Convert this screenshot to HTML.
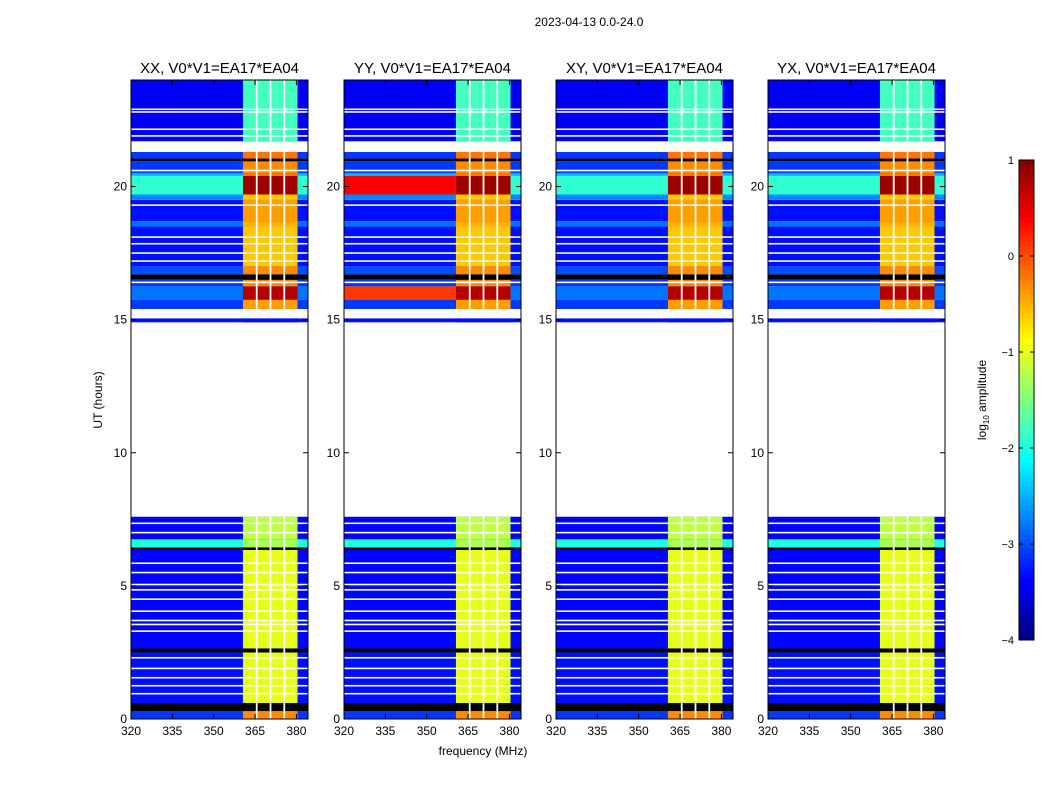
<!DOCTYPE html>
<html><head><meta charset="utf-8"><style>
body{margin:0;background:#fff;font-family:"Liberation Sans",sans-serif}
svg text{font-family:"Liberation Sans",sans-serif}
</style></head><body>
<svg id="chart" width="1050" height="800" viewBox="0 0 1050 800" xmlns="http://www.w3.org/2000/svg">
<rect width="1050" height="800" fill="#fff"/>
<text x="589" y="26" font-size="12" text-anchor="middle">2023-04-13 0.0-24.0</text>
<g id="panels"></g>
<text x="483" y="755" font-size="12" text-anchor="middle">frequency (MHz)</text>
<text transform="translate(102,400) rotate(-90)" font-size="12" text-anchor="middle">UT (hours)</text>
<g id="cbar"></g>
<text transform="translate(986,400) rotate(-90)" font-size="12" text-anchor="middle">log<tspan font-size="8" dy="3">10</tspan><tspan dy="-3"> amplitude</tspan></text>
</svg>
<script>
const panelTitles=["XX, V0*V1=EA17*EA04","YY, V0*V1=EA17*EA04","XY, V0*V1=EA17*EA04","YX, V0*V1=EA17*EA04"];
const panelLefts=[131,344,556,768];
const xTicks=[320,335,350,365,380];
const yTicks=[0,5,10,15,20];
const cbTicks=[1,0,-1,-2,-3,-4];
// time rows: start hour, end hour, background level, band level (null = flagged white, "k" = black)
const rowStart=[0,0.3,0.6,2.5,2.65,6.35,6.45,6.75,7.6,14.9,15.05,15.4,15.75,16.25,16.5,16.7,17.0,18.5,18.7,19.5,19.7,20.4,20.5,20.95,21.05,21.3,21.7];
const rowEnd  =[0.3,0.6,2.5,2.65,6.35,6.45,6.75,7.6,14.9,15.05,15.4,15.75,16.25,16.5,16.7,17.0,18.5,18.7,19.5,19.7,20.4,20.5,20.95,21.05,21.3,21.7,24];
const rowBg   =[-3.1,"k",-3.3,"k",-3.35,"k",-2.0,-3.35,null,-3.3,null,-3.1,-2.8,-3.1,"k",-3.0,-3.3,-2.8,-3.3,-2.7,-1.9,-2.5,-3.1,"k",-3.1,null,-3.4];
const rowBand =[-0.3,"k",-1.0,"k",-1.0,"k",-1.3,-1.2,null,-3.3,null,-0.4,0.75,-0.3,"k",-0.3,-0.6,-0.5,-0.4,-0.6,0.85,-0.2,-0.3,"k",-0.2,null,-1.8];
const whiteLines=[0.95,1.25,1.55,1.9,2.3,3.3,3.55,3.7,4.05,4.5,4.85,5.05,5.5,5.85,7.0,7.35,16.4,17.2,17.5,17.85,18.1,19.3,20.6,21.9,22.15,22.8,22.9];
const bandFreq=[360.6,380.4];
const gapFreq=[365.6,370.6,375.6];
const yyHotStart=[15.75,19.7];
const yyHotEnd=[16.25,20.4];
const yyHotLevel=[0.1,0.4];

const NS="http://www.w3.org/2000/svg";
const panels=document.getElementById('panels');
const W=177,top0=80,bot0=719,fmin=320,fmax=384.2;
function jet(v){let x=(v+4)/5;x=Math.max(0,Math.min(1,x));
const c=t=>Math.round(255*Math.max(0,Math.min(1,1.5-Math.abs(4*x-t))));
return `rgb(${c(3)},${c(2)},${c(1)})`;}
function yS(h){return bot0-(h/24)*(bot0-top0);}
function mk(tag,attrs,parent){const e=document.createElementNS(NS,tag);for(const k in attrs)e.setAttribute(k,attrs[k]);parent.appendChild(e);return e;}
function col(v){return v==="k"?"#000":(v===null?"#fff":jet(v));}
panelLefts.forEach((L,p)=>{
  const xS=f=>L+(f-fmin)/(fmax-fmin)*W;
  const g=mk('g',{},panels);
  
  
  for(let i=0;i<rowStart.length;i++){
    const y1=yS(rowEnd[i]),y2=yS(rowStart[i]);
    const r=mk('rect',{x:L,y:y1,width:W,height:y2-y1,fill:col(rowBg[i])},g);
    
    
    if(rowBand[i]!==null){
      const b=mk('rect',{x:xS(bandFreq[0]),y:y1,width:xS(bandFreq[1])-xS(bandFreq[0]),height:y2-y1,fill:col(rowBand[i])},g);
      
      
    }
  }
  if(p===1){
    for(let k=0;k<yyHotStart.length;k++){
      const y1=yS(yyHotEnd[k]),y2=yS(yyHotStart[k]);
      const h=mk('rect',{x:L,y:y1,width:xS(bandFreq[0])-L,height:y2-y1,fill:jet(yyHotLevel[k])},g);
      
      
    }
  }
  whiteLines.forEach(h=>{
    const l=mk('rect',{x:L,y:yS(h)-0.8,width:W,height:1.6,fill:'#fff'},g);
    
    
  });
  gapFreq.forEach(f=>{
    [[0,7.6],[15.4,21.3],[21.7,24]].forEach(([a,b])=>{
      const gg=mk('rect',{x:xS(f)-0.9,y:yS(b),width:1.8,height:yS(a)-yS(b),fill:'#fff'},g);
      
      
    });
  });
  const fr=mk('rect',{x:L,y:top0,width:W,height:bot0-top0,fill:'none',stroke:'#000','stroke-width':1},g);
  
  
  const t=mk('text',{x:L+W/2,y:73,'font-size':15,'text-anchor':'middle'},g);t.textContent=panelTitles[p];
  
  
  xTicks.forEach(f=>{
    const x=xS(f);
    mk('line',{x1:x,x2:x,y1:bot0,y2:bot0-5,stroke:'#000'},g);
    mk('line',{x1:x,x2:x,y1:top0,y2:top0+5,stroke:'#000'},g);
    const tx=mk('text',{x:x,y:bot0+16,'font-size':12,'text-anchor':'middle'},g);tx.textContent=f;
    
    
  });
  yTicks.forEach(h=>{
    const y=yS(h);
    mk('line',{x1:L,x2:L+5,y1:y,y2:y,stroke:'#000'},g);
    mk('line',{x1:L+W,x2:L+W-5,y1:y,y2:y,stroke:'#000'},g);
    const ty=mk('text',{x:L-4,y:y+4,'font-size':12,'text-anchor':'end'},g);ty.textContent=h;
    
    
  });
});
// colorbar
const cb=document.getElementById('cbar');


const cbX=1019,cbW=15,cbT=160,cbB=640;
const cbY=v=>cbB-(v+4)/5*(cbB-cbT);
for(let i=0;i<100;i++){const v=-4+5*i/100;
  mk('rect',{x:cbX,y:cbY(v+0.05)-0.3,width:cbW,height:(cbB-cbT)/100+0.6,fill:jet(v+0.025)},cb);}
mk('rect',{x:cbX,y:cbT,width:cbW,height:cbB-cbT,fill:'none',stroke:'#000'},cb);
cbTicks.forEach(v=>{const y=cbY(v);
  mk('line',{x1:cbX,x2:cbX+4,y1:y,y2:y,stroke:'#000'},cb);
  mk('line',{x1:cbX+cbW,x2:cbX+cbW-4,y1:y,y2:y,stroke:'#000'},cb);
  const t=mk('text',{x:cbX-5,y:y+4,'font-size':11,'text-anchor':'end'},cb);
  t.textContent=v<0?'\u2212'+(-v):String(v);
  
  
});
</script>
</body></html>
